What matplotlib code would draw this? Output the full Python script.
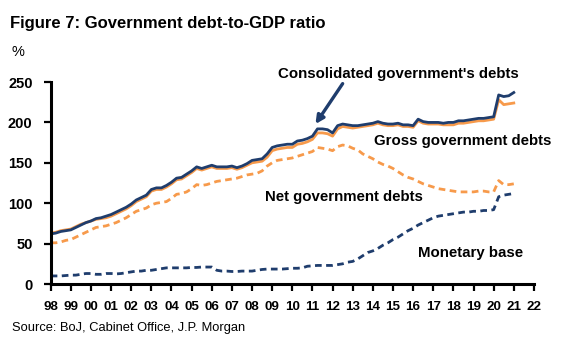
import numpy as np
import matplotlib
matplotlib.use("Agg")
import matplotlib.pyplot as plt

plt.rcParams['font.family'] = ['Liberation Sans', 'DejaVu Sans']

NAVY = "#1f3d6d"
ORANGE = "#f79a4b"

# quarterly, 1998Q1 .. 2021Q1, % of GDP
quarters = np.arange(1998, 2021.01, 0.25)

consolidated = [
    62, 63, 65, 66,   67, 70, 73, 76,   78, 81, 82, 84,   86, 89, 92, 95,
    99, 104, 107, 110,   117, 119, 119, 122,   126, 131, 132, 136,   140, 145, 143, 145,
    147, 145, 145, 145,   146, 144, 146, 149,   153, 154, 155, 161,   169, 171, 172, 173,
    173, 177, 178, 180,   183, 192, 192, 191,   187, 196, 198, 197,   196, 196, 197, 198,
    199, 201, 199, 198,   198, 199, 197, 197,   196, 204, 201, 200,   200, 200, 199, 200,
    200, 202, 202, 203,   204, 205, 205, 206,   207, 234, 232, 233,   237,
]
gross = [
    63, 64, 66, 67,   68, 71, 74, 76,   78, 80, 81, 82,   84, 87, 90, 93,
    97, 102, 105, 108,   115, 117, 117, 120,   124, 129, 130, 134,   138, 143, 141, 143,
    145, 143, 143, 143,   144, 142, 144, 147,   150, 151, 152, 157,   165, 167, 168, 169,
    169, 173, 174, 176,   179, 187, 187, 186,   183, 192, 195, 194,   193, 194, 195, 196,
    197, 199, 197, 196,   196, 197, 195, 195,   194, 202, 199, 198,   198, 198, 197, 197,
    197, 199, 199, 200,   201, 202, 202, 203,   204, 228, 222, 223,   224,
]
net = [
    51, 51, 52, 54,   55, 58, 61, 64,   67, 70, 71, 72,   74, 76, 79, 82,
    86, 90, 92, 94,   98, 100, 101, 102,   106, 111, 112, 114,   118, 123, 122, 123,
    125, 127, 128, 129,   130, 131, 133, 135,   136, 137, 140, 146,   150, 153, 154, 155,
    156, 158, 160, 162,   164, 169, 168, 167,   165, 170, 172, 171,   168, 166, 161, 158,
    155, 151, 148, 146,   143, 139, 135, 132,   130, 127, 124, 122,   120, 118, 117, 116,
    115, 114, 114, 114,   114, 115, 115, 114,   114, 128, 123, 123,   124,
]
monetary_base = [
    10, 10, 10, 10.5,   11, 11, 12, 13,   13, 12, 12, 13,   13, 12.5, 13, 14,
    15, 16, 16, 17,   17, 18, 19, 20,   20, 20, 20, 20,   20.5, 20.5, 21, 21,
    21, 17, 16, 16,   15.5, 15.5, 16, 16,   16, 17, 18, 18.5,   18.5, 18.5, 18.5, 19,
    19.5, 19.5, 20, 22,   22.5, 23, 23, 23,   23, 24, 25, 27,   28, 31, 35, 39,
    41, 44, 48, 51,   55, 58, 62, 66,   69, 73, 76, 79,   82, 84, 85, 86,
    87, 88, 89, 89,   90, 90, 91, 91,   92, 108, 110, 111,   112,
]

year_ticks = np.arange(1998, 2023)
year_labels = [f"{y % 100:02d}" for y in year_ticks]

fig = plt.figure(figsize=(5.65, 3.49), dpi=100)
ax = fig.add_axes([0.0897, 0.1862, 0.8553, 0.5788])

lw = 2.0
ax.plot(quarters, gross, color=ORANGE, lw=lw, solid_joinstyle='round')
ax.plot(quarters, net, color=ORANGE, lw=lw, dashes=(2.4, 1.6))
ax.plot(quarters, monetary_base, color=NAVY, lw=lw, dashes=(2.4, 1.6))
ax.plot(quarters, consolidated, color=NAVY, lw=lw, solid_joinstyle='round')

ax.set_xlim(1998, 2022)
ax.set_ylim(0, 250)
ax.set_xticks(year_ticks)
ax.set_xticklabels(year_labels)
ax.set_yticks(np.arange(0, 251, 50))

for side in ("top", "right"):
    ax.spines[side].set_visible(False)
for side in ("left", "bottom"):
    ax.spines[side].set_linewidth(2.2)
ax.spines["left"].set_bounds(0, 250)

ax.tick_params(axis="both", direction="out", width=1.6)
ax.tick_params(axis="y", length=5, pad=8, labelsize=10.5)
ax.tick_params(axis="x", length=5, pad=7, labelsize=9.6)
for lab in ax.get_xticklabels() + ax.get_yticklabels():
    lab.set_fontweight("bold")

# series labels
ann = dict(fontsize=10.8, fontweight="bold", va="center", ha="left", clip_on=False)
ax.text(2009.3, 260, "Consolidated government's debts", **ann)
ax.text(2014.08, 176.6, "Gross government debts", **ann)
ax.text(2008.66, 108.2, "Net government debts", **ann)
ax.text(2016.23, 38.6, "Monetary base", **ann)

# pointer from the consolidated label down to the line
ax.annotate("", xy=(2011.15, 198), xytext=(2012.5, 248),
            arrowprops=dict(arrowstyle="-|>", color=NAVY, lw=2.4,
                            mutation_scale=12, shrinkA=0, shrinkB=0),
            annotation_clip=False, zorder=5)

fig.text(0.018, 0.92, "Figure 7: Government debt-to-GDP ratio",
         fontsize=12, fontweight="bold", va="baseline", ha="left")
fig.text(0.02, 0.84, "%", fontsize=10.5, va="baseline", ha="left")
fig.text(0.021, 0.052, "Source: BoJ, Cabinet Office, J.P. Morgan",
         fontsize=9.3, va="baseline", ha="left")

fig.savefig("out.png", dpi=100)
